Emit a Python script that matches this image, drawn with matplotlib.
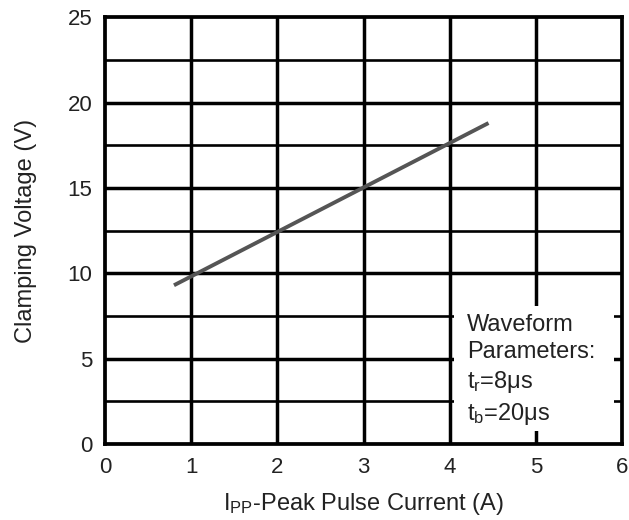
import numpy as np
import matplotlib.pyplot as plt
from matplotlib.patches import Rectangle

plt.rcParams['font.family'] = ['Liberation Sans', 'DejaVu Sans']
plt.rcParams['mathtext.fontset'] = 'custom'
plt.rcParams['mathtext.rm'] = 'Liberation Sans'

# curve
ipp = [0.8, 4.45]
vc = [9.3, 18.8]

xticks = [0, 1, 2, 3, 4, 5, 6]
yticks = [0, 5, 10, 15, 20, 25]
yminor = [2.5, 7.5, 12.5, 17.5, 22.5]

fig = plt.figure(figsize=(6.29, 5.2), dpi=100)
ax = fig.add_axes([0.167, 0.146, 0.822, 0.821])

ax.set_xlim(0, 6)
ax.set_ylim(0, 25)
ax.set_xticks(xticks)
ax.set_yticks(yticks)
ax.set_yticks(yminor, minor=True)
ax.tick_params(which='both', length=0, labelsize=16, colors='#222222', pad=9)

for x in xticks[1:-1]:
    ax.axvline(x, color='black', lw=2.5, zorder=1)
for y in yticks[1:-1]:
    ax.axhline(y, color='black', lw=2.5, zorder=1)
for y in yminor:
    ax.axhline(y, color='black', lw=1.9, zorder=1)
for s in ax.spines.values():
    s.set_linewidth(2.7)

ax.add_patch(Rectangle((4.05, 0.76), 1.86, 7.3, facecolor='white',
                       edgecolor='none', zorder=2))
ax.text(4.2, 7.6, 'Waveform\nParameters:\n$\\mathregular{t_r}$=8μs\n$\\mathregular{t_b}$=20μs',
        ha='left', va='top', fontsize=17, color='#222222', linespacing=1.3, zorder=3)

ax.plot(ipp, vc, color='#555555', lw=2.8, solid_capstyle='butt', zorder=4)

ax.set_ylabel('Clamping Voltage (V)', fontsize=17, color='#222222', labelpad=22)
ax.set_xlabel('$\\mathregular{I_{PP}}$-Peak Pulse Current (A)', fontsize=17,
              color='#222222', labelpad=10)

fig.savefig('out.png', dpi=100)
